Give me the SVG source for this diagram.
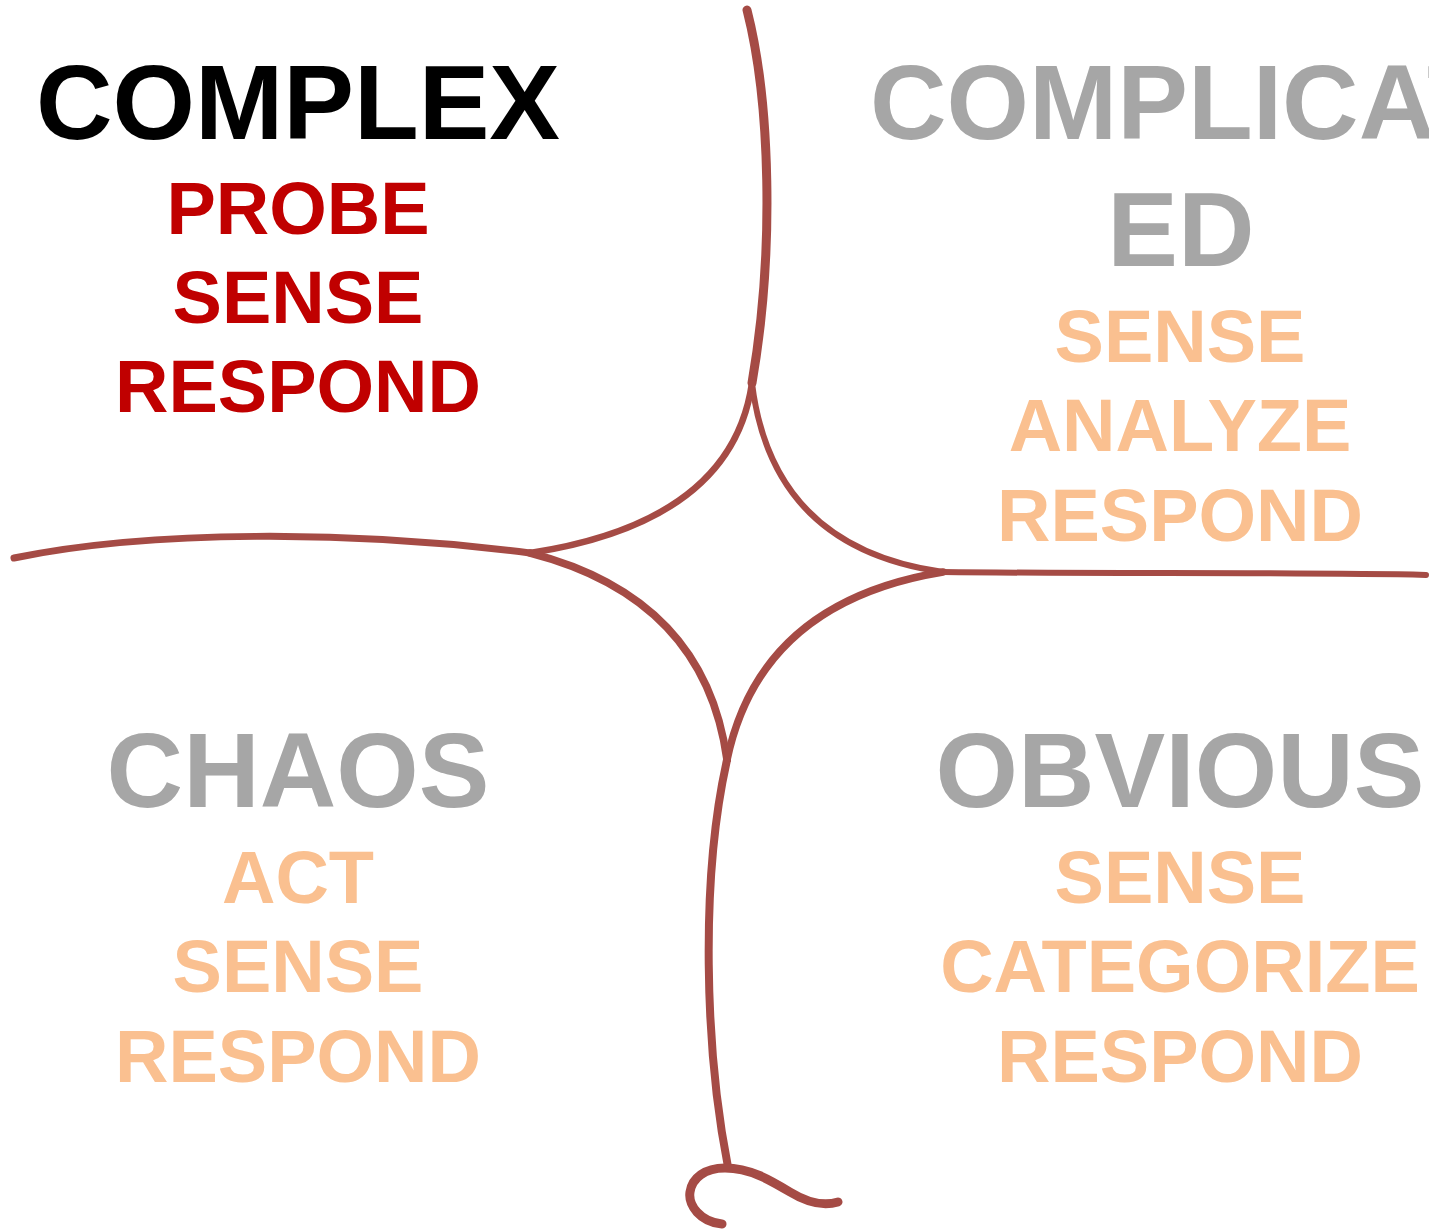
<svg xmlns="http://www.w3.org/2000/svg" width="1429" height="1230" viewBox="0 0 1429 1230">
<style>
text{font-family:"Liberation Sans",Arial,sans-serif;font-weight:bold;text-anchor:middle}
.t{font-size:106px}
.s{font-size:74px}
.blk{fill:#000000}
.red{fill:#C00000}
.gry{fill:#A6A6A6}
.pch{fill:#FAC090}
.ln{fill:none;stroke:#A54B45;stroke-linecap:round;stroke-linejoin:round}
</style>
<rect width="1429" height="1230" fill="#ffffff"/>
<g id="connectors">
<path class="ln" stroke-width="9" d="M747,10 C770,100 775,250 752,383"/>
<path class="ln" stroke-width="7" d="M14,558 C150,530 350,530 530,553"/>
<path class="ln" stroke-width="6" d="M943,572 C1100,574 1300,572 1426,575"/>
<path class="ln" stroke-width="6.5" d="M752,383 Q732,522 530,553"/>
<path class="ln" stroke-width="6" d="M752,383 Q772,548 943,572"/>
<path class="ln" stroke-width="7.5" d="M530,553 Q705,598 727,760"/>
<path class="ln" stroke-width="7.5" d="M727,760 Q760,602 943,572"/>
<path class="ln" stroke-width="8" d="M727,760 C700,880 705,1050 728,1167"/>
<path class="ln" stroke-width="9" d="M722,1224 C700,1222 688,1205 690,1192 C692,1178 705,1168 725,1168 C750,1168 770,1180 790,1192 C808,1203 825,1206 838,1202"/>
</g>
<g id="complex">
<text class="t blk" x="298" y="139">COMPLEX</text>
<text class="s red" x="298" y="234">PROBE</text>
<text class="s red" x="298" y="323">SENSE</text>
<text class="s red" x="298" y="412">RESPOND</text>
</g>
<g id="complicated">
<text class="t gry" x="1181" y="139">COMPLICAT</text>
<text class="t gry" x="1181" y="266">ED</text>
<text class="s pch" x="1180" y="362">SENSE</text>
<text class="s pch" x="1180" y="451">ANALYZE</text>
<text class="s pch" x="1180" y="541">RESPOND</text>
</g>
<g id="chaos">
<text class="t gry" x="298" y="807">CHAOS</text>
<text class="s pch" x="298" y="903">ACT</text>
<text class="s pch" x="298" y="992">SENSE</text>
<text class="s pch" x="298" y="1082">RESPOND</text>
</g>
<g id="obvious">
<text class="t gry" x="1180" y="807">OBVIOUS</text>
<text class="s pch" x="1180" y="903">SENSE</text>
<text class="s pch" x="1180" y="992">CATEGORIZE</text>
<text class="s pch" x="1180" y="1082">RESPOND</text>
</g>
</svg>
